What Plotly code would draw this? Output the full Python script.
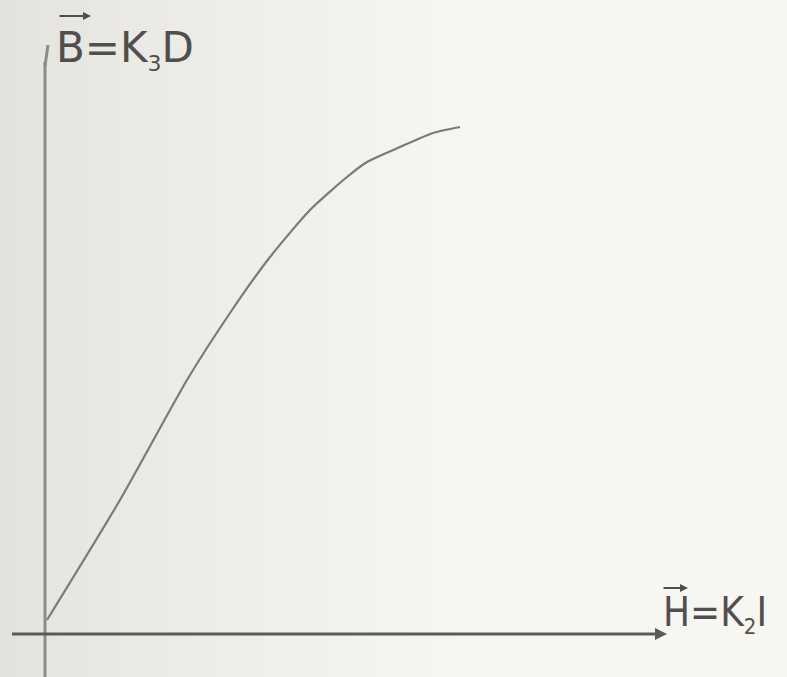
import plotly.graph_objects as go

# Magnetisation curve B = f(H) (arbitrary units)
H_values = [3, 76, 143, 186, 226, 266, 303, 323, 356, 389, 416]
B_values = [13, 133, 253, 320, 376, 423, 456, 471, 486, 500, 506]

x_label = "H=K<sub><span style='font-size:22px'>2</span></sub>I"
y_label = "B=K<sub><span style='font-size:22px'>3</span></sub>D"

W, H = 787, 677
OX, OY = 44, 633  # pixel position of the origin


def px(x):
    return x - OX


def py(y):
    return OY - y


fig = go.Figure()

# curve
fig.add_trace(go.Scatter(
    x=H_values, y=B_values, mode="lines",
    line=dict(color="#7a7a7a", width=2.2, shape="spline", smoothing=0.6),
    hoverinfo="skip", showlegend=False,
))

shapes = []
# background shading of the scan (darker on the left, smooth gradient)
c_left = (228, 226, 220)
c_right = (248, 246, 241)
n = 40
edge = 480
for i in range(n):
    a = edge * i / n
    b = edge * (i + 1) / n if i < n - 1 else W
    t = (i / (n - 1)) ** 0.8
    c = tuple(int(round(c_left[k] + (c_right[k] - c_left[k]) * t)) for k in range(3))
    shapes.append(dict(type="rect", xref="x", yref="y", x0=px(a), x1=px(b) + 0.5,
                       y0=py(H), y1=py(0), fillcolor="rgb(%d,%d,%d)" % c,
                       line=dict(width=0), layer="below"))
# vertical axis
shapes.append(dict(type="line", xref="x", yref="y", x0=px(45), x1=px(45),
                   y0=py(677), y1=py(62), line=dict(color="#8c8c8c", width=3)))
# small tick at top of vertical axis
shapes.append(dict(type="line", xref="x", yref="y", x0=px(45), x1=px(48),
                   y0=py(66), y1=py(45), line=dict(color="#8c8c8c", width=3)))
# horizontal axis
shapes.append(dict(type="line", xref="x", yref="y", x0=px(12), x1=px(655),
                   y0=py(634), y1=py(634), line=dict(color="#5a5a5a", width=3)))

annotations = [
    # arrowhead of horizontal axis
    dict(x=px(667), y=py(634), ax=px(640), ay=py(634), xref="x", yref="y",
         axref="x", ayref="y", text="", showarrow=True, arrowhead=2,
         arrowsize=1.2, arrowwidth=2, arrowcolor="#5a5a5a"),
    # labels
    dict(x=px(54), y=py(49), xref="x", yref="y", text=y_label, showarrow=False,
         xanchor="left", yanchor="middle",
         font=dict(family="DejaVu Sans", size=42, color="#4f4f4f")),
    dict(x=px(661), y=py(614), xref="x", yref="y", text=x_label, showarrow=False,
         xanchor="left", yanchor="middle",
         font=dict(family="DejaVu Sans Condensed, Roboto Condensed, Liberation Sans Narrow, Roboto",
                   size=40, color="#4f4f4f")),
    # vector arrows above B and H
    dict(x=px(91), y=py(16), ax=px(58), ay=py(16), xref="x", yref="y",
         axref="x", ayref="y", text="", showarrow=True, arrowhead=2,
         arrowsize=0.8, arrowwidth=2, arrowcolor="#4f4f4f"),
    dict(x=px(688), y=py(588), ax=px(662), ay=py(588), xref="x", yref="y",
         axref="x", ayref="y", text="", showarrow=True, arrowhead=2,
         arrowsize=0.8, arrowwidth=2, arrowcolor="#4f4f4f"),
]

fig.update_layout(
    width=W, height=H, margin=dict(l=0, r=0, t=0, b=0),
    paper_bgcolor="#f4f2ec", plot_bgcolor="#f4f2ec",
    xaxis=dict(range=[px(0), px(W)], visible=False, fixedrange=True),
    yaxis=dict(range=[py(H), py(0)], visible=False, fixedrange=True),
    shapes=shapes, annotations=annotations, showlegend=False,
)

fig.write_html("out.html", post_script="document.body.style.margin='0';",
               config={"displayModeBar": False})
